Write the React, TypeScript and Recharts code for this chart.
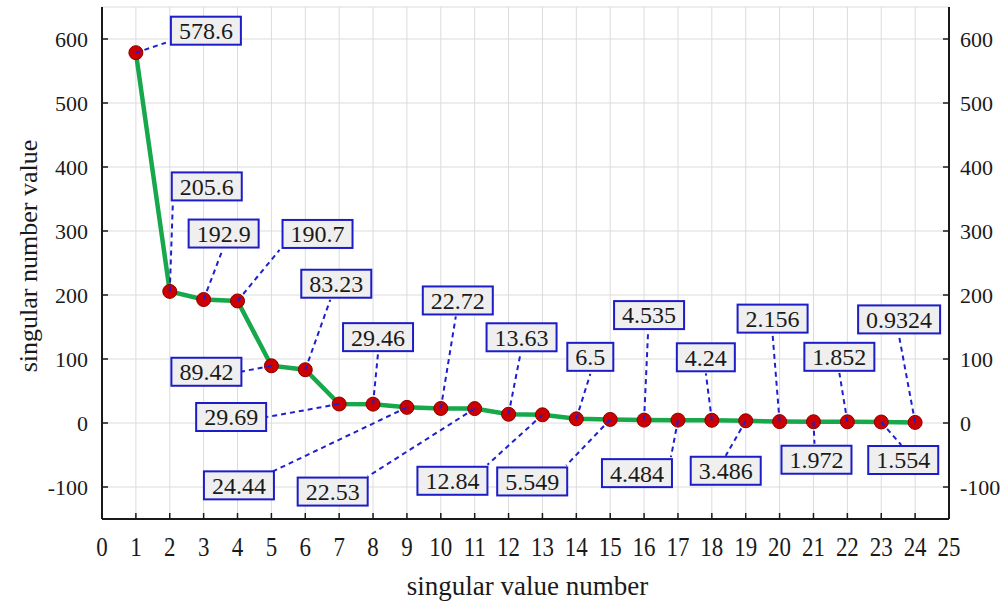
import React from 'react';
import { LineChart, Line, XAxis, YAxis, CartesianGrid, LabelList } from 'recharts';

const singularNumbers = [1, 2, 3, 4, 5, 6, 7, 8, 9, 10, 11, 12, 13, 14, 15, 16, 17, 18, 19, 20, 21, 22, 23, 24];
const singularValues = [
  578.6, 205.6, 192.9, 190.7, 89.42, 83.23, 29.69, 29.46, 24.44, 22.72, 22.53, 13.63,
  12.84, 6.5, 5.549, 4.535, 4.484, 4.24, 3.486, 2.156, 1.972, 1.852, 1.554, 0.9324,
];
const xTicks = [0, 1, 2, 3, 4, 5, 6, 7, 8, 9, 10, 11, 12, 13, 14, 15, 16, 17, 18, 19, 20, 21, 22, 23, 24, 25];
const yTicks = [-100, 0, 100, 200, 300, 400, 500, 600];

// annotation layout (pixel offsets from each point): box centre, and end of the dashed leader
const boxOffsets: [number, number][] = [
  [70, -22], [37, -105], [20, -66], [80, -67], [-65, 6], [31, -86], [-108, 13], [5, -67],
  [-168, 78], [17, -108], [-142, 83], [13, -77], [-90, 66], [14, -62], [-78, 62], [5, -105],
  [-41, 53], [-6, -63], [-20, 50], [-7, -103], [3, 38], [-8, -65], [22, 38], [-16, -103],
];
const leaderEnds: [number, number][] = [
  [30, -10], [3, -86], [19, -50], [42, -51], [-31, 6], [25, -70], [-72, 13], [5, -51],
  [-134, 64], [15, -92], [-107, 68], [12, -61], [-55, 50], [14, -45], [-44, 46], [4, -88],
  [-7, 37], [-6, -47], [-20, 35], [-7, -87], [1, 22], [-8, -49], [20, 23], [-16, -86],
];

const data = singularNumbers.map((n, i) => ({ n, v: singularValues[i] }));

const FONT = "'Liberation Serif', 'Times New Roman', serif";
const INK = '#1a1a1a';

const LeftTick = (p: any) => (
  <g>
    <line x1={p.x} x2={p.x + 6} y1={p.y} y2={p.y} stroke={INK} strokeWidth={1.5} />
    <text x={p.x - 14} y={p.y} dy="0.35em" textAnchor="end" fontFamily={FONT} fontSize={22} fill={INK}>
      {p.payload.value}
    </text>
  </g>
);

const RightTick = (p: any) => (
  <g>
    <line x1={p.x} x2={p.x - 6} y1={p.y} y2={p.y} stroke={INK} strokeWidth={1.5} />
    <text x={p.x + 11} y={p.y} dy="0.35em" textAnchor="start" fontFamily={FONT} fontSize={22} fill={INK}>
      {p.payload.value}
    </text>
  </g>
);

const BottomTick = (p: any) => (
  <g>
    <line x1={p.x} x2={p.x} y1={p.y} y2={p.y - 6} stroke={INK} strokeWidth={1.5} />
    <text
      transform={`translate(${p.x},${p.y + 37}) scale(0.82,1)`}
      textAnchor="middle"
      fontFamily={FONT}
      fontSize={28}
      fill={INK}
    >
      {p.payload.value}
    </text>
  </g>
);

const TopTick = (p: any) => (
  <g>
    <line x1={p.x} x2={p.x} y1={p.y} y2={p.y + 6} stroke={INK} strokeWidth={1.5} />
  </g>
);

const LABEL_FS = 24;
const textWidth = (s: string) => {
  let w = 0;
  for (const c of s) w += c === '.' ? 0.25 : 0.5;
  return w * LABEL_FS;
};

const renderValueLabel = (props: any) => {
  const { x, y, value, index } = props;
  const txt = String(value);
  const [bx, by] = boxOffsets[index];
  const [lx, ly] = leaderEnds[index];
  const w = textWidth(txt) + 16;
  const h = 28;
  const cx = x + bx;
  const cy = y + by;
  return (
    <g key={`lbl-${index}`}>
      <line
        x1={x}
        y1={y}
        x2={x + lx}
        y2={y + ly}
        stroke="#1f1fd0"
        strokeWidth={2}
        strokeDasharray="5 4"
      />
      <rect x={cx - w / 2} y={cy - h / 2} width={w} height={h} fill="#efefef" stroke="#1c1cc8" strokeWidth={2} />
      <text x={cx} y={cy} dy="0.35em" textAnchor="middle" fontFamily={FONT} fontSize={LABEL_FS} fill={INK}>
        {txt}
      </text>
    </g>
  );
};

export default function App() {
  return (
    <div style={{ position: 'absolute', left: 0, top: 0, width: 1003, height: 605, background: '#fff' }}>
      <LineChart
        width={1003}
        height={605}
        data={data}
        margin={{ top: 7, right: 4, bottom: 6, left: 12 }}
      >
        <CartesianGrid stroke="#dcdcdc" strokeWidth={1} />
        <XAxis
          dataKey="n"
          type="number"
          domain={[0, 25]}
          ticks={xTicks}
          interval={0}
          height={80}
          tickSize={0}
          tickMargin={0}
          tick={BottomTick}
          axisLine={{ stroke: INK, strokeWidth: 2 }}
          tickLine={false}
          label={{
            content: (lp: any) => {
              const vb = lp.viewBox || { x: 102, y: 519, width: 847, height: 80 };
              return (
                <text
                  x={vb.x + vb.width / 2 + 2}
                  y={vb.y + 76}
                  textAnchor="middle"
                  fontFamily={FONT}
                  fontSize={27}
                  fill={INK}
                >
                  singular value number
                </text>
              );
            },
          }}
        />
        <XAxis
          xAxisId="top"
          orientation="top"
          dataKey="n"
          type="number"
          domain={[0, 25]}
          ticks={xTicks}
          interval={0}
          height={0}
          tickSize={0}
          tickMargin={0}
          tick={TopTick}
          axisLine={{ stroke: INK, strokeWidth: 2 }}
          tickLine={false}
        />
        <YAxis
          type="number"
          domain={[-150, 650]}
          ticks={yTicks}
          interval={0}
          width={90}
          tickSize={0}
          tickMargin={0}
          tick={LeftTick}
          axisLine={{ stroke: INK, strokeWidth: 2 }}
          tickLine={false}
          allowDataOverflow
          label={{
            content: (lp: any) => {
              const vb = lp.viewBox || { x: 12, y: 7, width: 90, height: 512 };
              const cx = vb.x + 16;
              const cy = vb.y + vb.height / 2 - 7;
              return (
                <text
                  x={cx}
                  y={cy}
                  dy="0.35em"
                  transform={`rotate(-90, ${cx}, ${cy})`}
                  textAnchor="middle"
                  fontFamily={FONT}
                  fontSize={26}
                  fill={INK}
                >
                  singular number value
                </text>
              );
            },
          }}
        />
        <YAxis
          yAxisId="right"
          orientation="right"
          type="number"
          domain={[-150, 650]}
          ticks={yTicks}
          interval={0}
          width={50}
          tickSize={0}
          tickMargin={0}
          tick={RightTick}
          axisLine={{ stroke: INK, strokeWidth: 2 }}
          tickLine={false}
          allowDataOverflow
        />
        <Line
          type="linear"
          dataKey="v"
          stroke="#17a84b"
          strokeWidth={4.5}
          dot={{ r: 7, fill: '#cc0000', stroke: '#8a0000', strokeWidth: 1 }}
          activeDot={false}
          isAnimationActive={false}
        >
          <LabelList dataKey="v" content={renderValueLabel} />
        </Line>
      </LineChart>
    </div>
  );
}
